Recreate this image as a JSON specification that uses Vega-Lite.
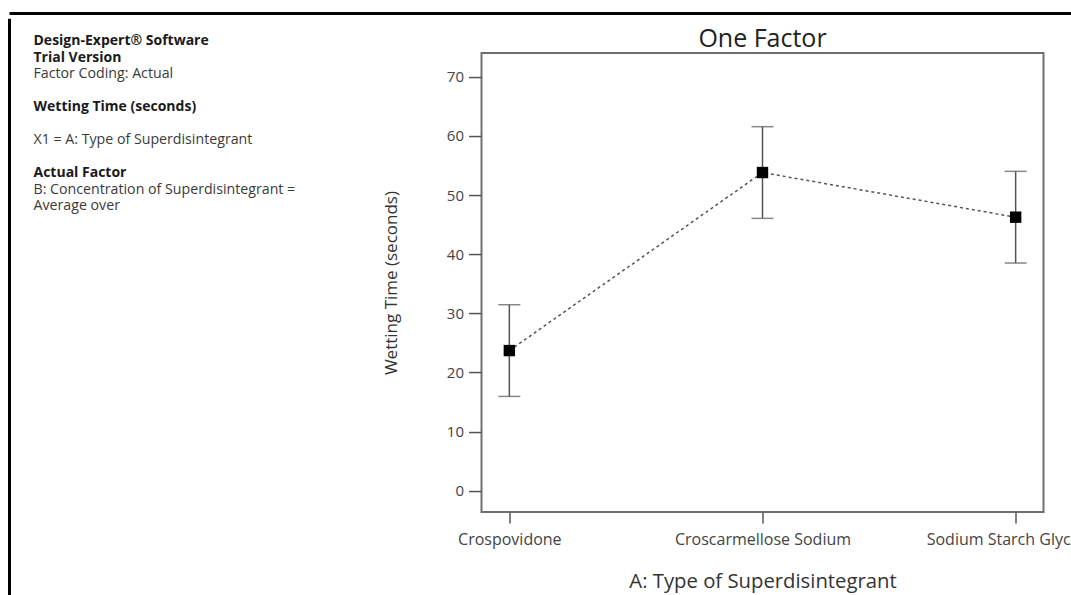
{
  "$schema": "https://vega.github.io/schema/vega-lite/v6.json",
  "padding": {"left": 7.5, "top": 11.5, "right": 0, "bottom": 0},
  "background": "white",
  "spacing": 0,
  "config": {
    "font": "Open Sans",
    "view": {"stroke": null}
  },
  "vconcat": [
    {
      "width": 1100,
      "height": 1,
      "view": {"stroke": "black", "strokeWidth": 3, "fill": null, "strokeDash": [1100, 5000]},
      "data": {"values": []},
      "mark": {"type": "text"},
      "encoding": {"text": {"field": "t"}}
    },
    {
      "spacing": 0,
      "center": true,
      "hconcat": [
        {
          "width": 369.5,
          "height": 607,
          "view": {"stroke": "black", "strokeWidth": 3, "fill": null, "strokeDash": [0, 1346, 607]},
          "data": {
            "values": [
              {"line": 1, "text": "Design-Expert® Software", "bold": true},
              {"line": 2, "text": "Trial Version", "bold": true},
              {"line": 3, "text": "Factor Coding: Actual", "bold": false},
              {"line": 5, "text": "Wetting Time (seconds)", "bold": true},
              {"line": 7, "text": "X1 = A: Type of Superdisintegrant", "bold": false},
              {"line": 9, "text": "Actual Factor", "bold": true},
              {"line": 10, "text": "B: Concentration of Superdisintegrant =", "bold": false},
              {"line": 11, "text": "Average over", "bold": false}
            ]
          },
          "encoding": {
            "x": {"datum": 0, "type": "quantitative", "scale": {"domain": [0, 1], "nice": false, "zero": false}, "axis": null},
            "y": {"field": "line", "type": "quantitative", "scale": {"domain": [-0.352, 36.436], "reverse": true, "nice": false, "zero": false}, "axis": null},
            "text": {"field": "text"}
          },
          "layer": [
            {
              "transform": [{"filter": "datum.bold"}],
              "mark": {"type": "text", "align": "left", "baseline": "middle", "dx": 24, "fontSize": 14, "fontWeight": "bold", "color": "#1a1a1a"}
            },
            {
              "transform": [{"filter": "!datum.bold"}],
              "mark": {"type": "text", "align": "left", "baseline": "middle", "dx": 24, "fontSize": 14.2, "color": "#3a3a3a"}
            }
          ]
        },
        {
          "width": 562,
          "height": 459,
          "view": {"stroke": "#707070", "strokeWidth": 2, "fill": null},
          "title": {"text": "One Factor", "fontSize": 25, "fontWeight": "normal", "color": "#222222", "offset": 1},
          "data": {
            "values": [
              {"type": "Crospovidone", "mean": 23.7, "lower": 15.95, "upper": 31.45},
              {"type": "Croscarmellose Sodium", "mean": 53.8, "lower": 46.05, "upper": 61.55},
              {"type": "Sodium Starch Glycolate", "mean": 46.25, "lower": 38.5, "upper": 54.0}
            ]
          },
          "encoding": {
            "x": {
              "field": "type", "type": "nominal",
              "sort": ["Crospovidone", "Croscarmellose Sodium", "Sodium Starch Glycolate"],
              "scale": {"type": "point", "padding": 0.11},
              "axis": {
                "title": "A: Type of Superdisintegrant",
                "titleFontSize": 20.3, "titleFontWeight": "normal", "titleColor": "#333333", "titlePadding": 24.6,
                "labelFontSize": 16, "labelColor": "#444444", "labelPadding": 8, "labelAngle": 0,
                "tickSize": 11, "tickColor": "#555555", "tickWidth": 1.5,
                "domain": false, "grid": false
              }
            }
          },
          "layer": [
            {
              "mark": {"type": "line", "color": "#555555", "strokeWidth": 1.5, "strokeDash": [3, 3]},
              "encoding": {
                "y": {
                  "field": "mean", "type": "quantitative",
                  "scale": {"domain": [-3.6, 74], "nice": false, "zero": false},
                  "axis": {
                    "title": "Wetting Time (seconds)",
                    "titleFontSize": 17, "titleFontWeight": "normal", "titleColor": "#333333", "titlePadding": 46,
                    "values": [0, 10, 20, 30, 40, 50, 60, 70],
                    "labelFontSize": 15, "labelColor": "#444444", "labelPadding": 5,
                    "tickSize": 13, "tickColor": "#555555", "tickWidth": 1.5,
                    "domain": false, "grid": false
                  }
                }
              }
            },
            {
              "mark": {"type": "rule", "color": "#555555", "strokeWidth": 1.5},
              "encoding": {
                "y": {"field": "lower", "type": "quantitative"},
                "y2": {"field": "upper"}
              }
            },
            {
              "mark": {"type": "tick", "color": "#555555", "thickness": 1.5, "size": 22, "orient": "horizontal"},
              "encoding": {"y": {"field": "lower", "type": "quantitative"}}
            },
            {
              "mark": {"type": "tick", "color": "#555555", "thickness": 1.5, "size": 22, "orient": "horizontal"},
              "encoding": {"y": {"field": "upper", "type": "quantitative"}}
            },
            {
              "mark": {"type": "point", "shape": "square", "filled": true, "color": "black", "size": 130, "opacity": 1},
              "encoding": {"y": {"field": "mean", "type": "quantitative"}}
            }
          ]
        }
      ]
    }
  ]
}
